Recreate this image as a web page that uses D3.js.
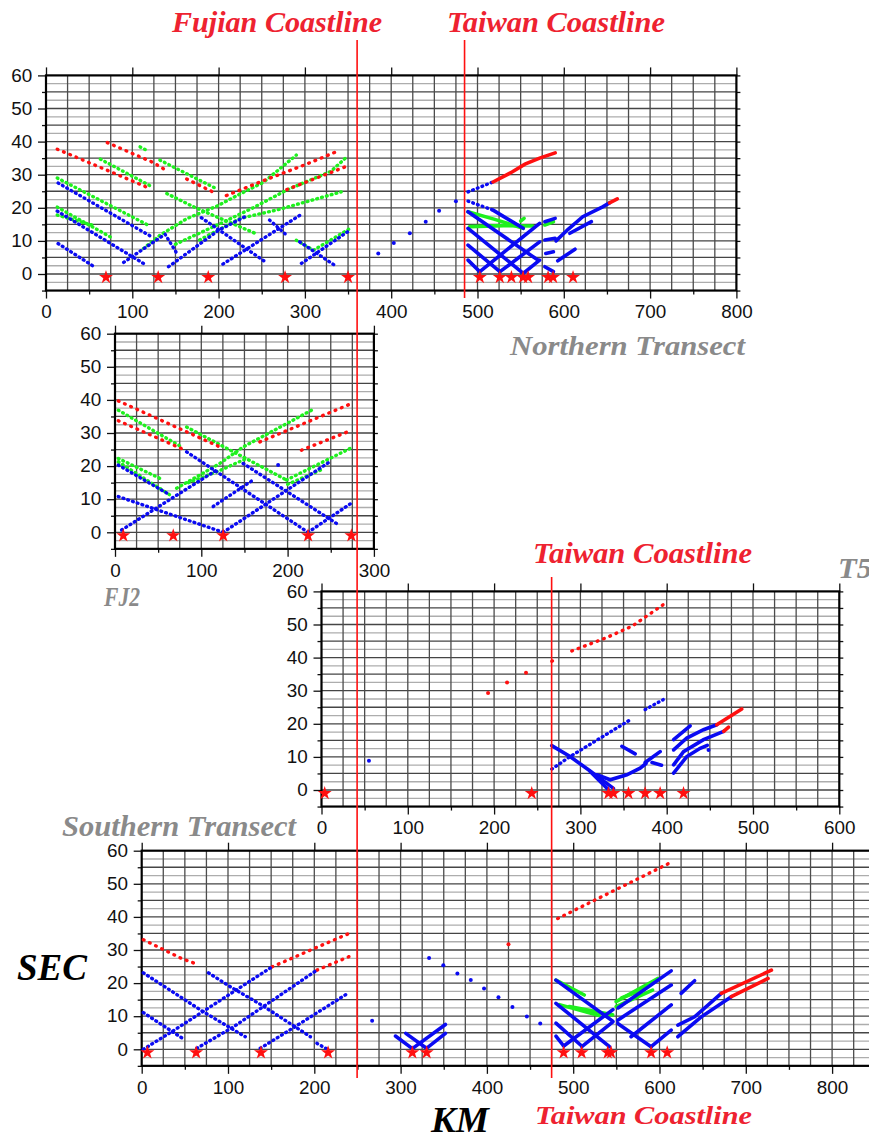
<!DOCTYPE html>
<meta charset="utf-8">
<script src="https://d3js.org/d3.v7.min.js"></script>
<style>
  body { margin: 0; background: #fff; }
</style>
<div id="chart"></div>
<script>

// ---------------- data : [km, sec] picked off the record sections ----------------

// Northern transect
var northRedDots = [
  [[13,37.7],[74,31],[117,26.2]],
  [[71,39.7],[124,33.7],[138,31.5]],
  [[163,28.7],[194,24.7]],
  [[209,23.7],[252,28.2],[300,33],[337,37]],
  [[279,25.5],[351,32.8]]
]
var northRedLines = [
  [[518,27.8],[540,30.8],[555,33.2],[572,35],[590,36.6]],
  [[653,21.5],[662,22.7]]
]
var northGreenDots = [
  [[13,29],[118,14.8]],
  [[63,34.7],[124,26.2]],
  [[109,38.4],[118,37.2]],
  [[132,34.4],[198,25.7]],
  [[140,24.3],[171,20.3],[200,17],[245,12]],
  [[13,20.2],[78,10.7]],
  [[13,17.8],[57,14.5]],
  [[113,7.7],[132,11.7],[163,16.7],[198,20.5],[225,24.2],[252,27.7],[290,35.9]],
  [[150,9],[200,15],[240,20],[280,25.5],[330,31],[350,35.7]],
  [[178,10.3],[225,16.8],[270,19.5],[342,24.8]],
  [[290,10.2],[310,7.2],[352,13.7]]
]
var northGreenLines = [
  [[489,18.8],[520,16.5],[553,13.8]],
  [[491,14.3],[530,14.6],[564,14.5]],
  [[550,16],[554,16.8]],
  [[578,14.8],[588,15.8]]
]
var northBlueDots = [
  [[13,19],[116,2.7]],
  [[14,27.5],[124,11]],
  [[14,9.2],[57,2]],
  [[90,3.5],[135,11.5]],
  [[138,12],[151,6.5]],
  [[142,2.2],[200,13.2],[232,17.5]],
  [[180,17],[254,3.7]],
  [[205,3],[294,17.7]],
  [[259,16.3],[279,11.7]],
  [[296,3.2],[352,13.2]],
  [[294,9.7],[337,2.2]],
  [[489,24.8],[518,27.8]],
  [[489,22],[518,19.3]]
]
var northBlueLines = [
  [[518,19.3],[553,13.8]],
  [[489,18.8],[570,4.2]],
  [[489,13.8],[553,0.2]],
  [[489,8.7],[526,0.7]],
  [[489,4.2],[502.7,0.7]],
  [[502.7,0.7],[572,15.3]],
  [[526,0.7],[572,9.7]],
  [[553,0.2],[572,4.2]],
  [[578,15.8],[590,16.8]],
  [[578,10.3],[590,10.8]],
  [[579,6.2],[588,6.7]],
  [[578,2.2],[588,0.7]],
  [[591,10],[605,13.5],[622,17.3],[645,20.3],[653,21.5]],
  [[607,12.3],[632,15.8]],
  [[593,4],[613,7.5]]
]
var northBluePoints = [[385,6.2],[403,9.4],[421.6,12.3],[440,15.8],[455.5,19.1],[475,22]]
var northShots = [69.5,130,188,277,350,502.7,525.8,539.3,552.8,558.6,581.8,587.6,610.7]

// FJ2 profile
var fjRedDots = [
  [[3.8,39.7],[121.5,25.8]],
  [[3.8,33.7],[77,25.3]],
  [[167.8,27.3],[274,38.9]],
  [[216,24.8],[274,30.8]]
]
var fjGreenDots = [
  [[3.8,36.9],[77,25.8]],
  [[83,31.8],[198.7,15.8]],
  [[3.8,22.3],[56,15.8]],
  [[3.8,21.3],[63.6,11.3]],
  [[71.4,13.3],[121.5,20.8],[148.5,25.8],[231.5,37.4]],
  [[85,15],[120,18.5],[150,22]],
  [[198.7,15.8],[276,25.8]],
  [[200,14.5],[240,19]]
]
var fjBlueDots = [
  [[3.8,20.3],[63.6,11.3]],
  [[3.8,10.8],[125.4,0]],
  [[7.7,0.7],[117.7,18.8]],
  [[83,24.3],[223.7,0]],
  [[125.4,0],[248.8,21.3]],
  [[148.5,20.8],[256.5,2.7]],
  [[223.7,0],[273.9,8.8]],
  [[113.8,7.8],[160,15.8]]
]
var fjBluePoints = [[189,20.3]]
var fjShots = [9.6,67.5,125.4,223.7,273.9]

// T5 profile
var t5RedDots = [
  [[266.8,38.9],[272.6,39.6]],
  [[290,42],[330,46],[360,49.5],[396,56]]
]
var t5RedLines = [
  [[458,19.7],[487,24.5]],
  [[466,17.7],[471.7,19]]
]
var t5RedPoints = [[193,29.3],[215,32.5],[237,35.4]]
var t5BlueDots = [
  [[266.8,6.3],[288,10.1],[357.7,21.2]],
  [[375,24.3],[396,27.3]]
]
var t5BlueLines = [
  [[266.8,13.4],[288,10.1],[309.3,6.1],[338.3,0.5]],
  [[311.3,5.6],[332.5,0.1]],
  [[319,4.6],[334.5,3.1],[353.8,4.6],[369.2,6.6],[376,8]],
  [[348,13.2],[363.5,10.9]],
  [[375,8.3],[392.4,11.6]],
  [[383,8.3],[394,7.5]],
  [[408,15.2],[427.2,19.4]],
  [[408,12.1],[423.3,15.7],[442.7,18.2],[458,19.7]],
  [[408,7.6],[419.5,11.6],[442.7,15.2],[466,17.7]],
  [[408,5.1],[423.3,10.1],[438.8,12.6],[447,13.5]]
]
var t5BluePoints = [[55,8.8],[448.5,12.1]]
var t5Shots = [3.7,243.6,332.5,338.3,355.7,375,392.4,419.5]

// Southern transect
var southRedDots = [
  [[1.9,33.1],[46.5,27.4],[62,25.9]],
  [[151,24.9],[199.4,30.4],[243.9,35.4]],
  [[203,23.9],[243.9,28.4]],
  [[482,39.5],[543.8,47.5],[571,51],[613.5,56.5]]
]
var southRedLines = [
  [[671.6,16.9],[729.7,23.9]],
  [[683.2,15.9],[725.8,21.4]]
]
var southRedPoints = [[425,31.7]]
var southBlueDots = [
  [[1.9,23.1],[71.6,11.3],[120,3.8]],
  [[1.9,11.1],[50.3,2.8]],
  [[1.9,0],[34.8,5.3],[106.5,17.4],[151,24.9]],
  [[77.4,23.1],[102.6,18.9],[139.4,13.3],[195.5,3.8]],
  [[63.9,0.3],[106.5,6.8],[191.6,21.9],[203,23.9]],
  [[137.4,0.3],[168.4,5.3],[240,17.1]],
  [[203,1.8],[216.8,-0.2]]
]
var southBlueLines = [
  [[294,4],[313.6,0.2],[352,7.5]],
  [[306,4.8],[330,0.3],[352,4.8]],
  [[480,20.9],[545.8,8.5]],
  [[480,13.9],[542,0.8]],
  [[480,7.9],[509.8,1]],
  [[480,4],[489,1]],
  [[489,1],[546,12]],
  [[552,12.5],[613.6,23.7]],
  [[510,0.8],[546,8.3]],
  [[551.6,8.8],[613.6,19.4]],
  [[567,3.8],[613.6,13.4]],
  [[590.3,0.8],[613.6,5.8]],
  [[551.6,7.8],[590.3,0.8]],
  [[625,16.9],[640.7,20.7]],
  [[621.3,7.3],[640.7,9.8],[671.6,16.9]],
  [[621.3,3.8],[648.4,9.8],[683.2,15.9]]
]
var southGreenLines = [
  [[480,20.9],[512.9,16.4]],
  [[495.5,12.9],[545.8,10.4]],
  [[484,13.5],[530,10.2]],
  [[549.7,14.4],[598,21.4]],
  [[549.7,12.9],[592,17.9]],
  [[556,15.5],[582,18.2]]
]
var southBluePoints = [[267,8.6],[333,27.6],[349.5,25.4],[365.8,22.9],[381.3,20.9],[396.7,18.4],[413.4,15.7],[429.6,12.8],[446.3,9.9],[461.8,7.8]]
var southShots = [6.6,63.1,138.2,216,313.6,330.2,488.9,509.8,540,543.9,590.3,608.9]

// coastlines (km on the northern / southern transect)
var fujianKm = 360.5
var taiwanKmNorth = 485
var taiwanKmSouth = 475

// ---------------- drawing ----------------
var W = 869, H = 1139
var kmPx = 0.863, secPx = 3.31
var RED = "#ff1010", GREEN = "#1ef01e", BLUE = "#0a0af2"
var LABEL_RED = "#ee2230", LABEL_GRAY = "#8a8a8a"
var numFont = "'Liberation Sans', Arial, sans-serif"
var titleFont = "'Liberation Serif', 'Times New Roman', serif"

var svg = d3.select("#chart").append("svg")
  .attr("width", W)
  .attr("height", H)
  .style("display", "block")

function drawPanel(p) {
  var x = d3.scaleLinear().domain([0, p.xmax]).range([p.left, p.left + p.xmax * kmPx])
  var y = d3.scaleLinear().domain([-5, 60]).range([p.zero + 5 * secPx, p.zero - 60 * secPx])
  var g = svg.append("g")
  var x0 = x(0), x1 = x(p.xmax), yT = y(60), yB = y(-5)

  g.append("rect")
    .attr("x", x0).attr("y", yT)
    .attr("width", x1 - x0).attr("height", yB - yT)
    .attr("fill", "#fff")

  // grid
  g.selectAll("line.hg").data(d3.range(-2.5, 60, 2.5)).join("line")
    .attr("class", "hg")
    .attr("x1", x0).attr("x2", x1)
    .attr("y1", function(d){ return y(d) }).attr("y2", function(d){ return y(d) })
    .attr("stroke", function(d){ return d % 5 === 0 ? "#454545" : "#adadad" })
    .attr("stroke-width", 1.3)
  g.selectAll("line.vg").data(d3.range(25, p.xmax, 25)).join("line")
    .attr("class", "vg")
    .attr("x1", function(d){ return x(d) }).attr("x2", function(d){ return x(d) })
    .attr("y1", yT).attr("y2", yB)
    .attr("stroke", "#4c4c4c")
    .attr("stroke-width", 1.3)

  // axes
  var xt = d3.range(0, p.xmax + 1, 100)
  var axB = g.append("g").attr("transform", "translate(0," + yB + ")")
    .call(d3.axisBottom(x).tickValues(xt).tickSize(8).tickPadding(7).tickFormat(d3.format("d")))
  var axT = g.append("g").attr("transform", "translate(0," + yT + ")")
    .call(d3.axisTop(x).tickValues(xt).tickSize(8).tickFormat(""))
  var axL = g.append("g").attr("transform", "translate(" + x0 + ",0)")
    .call(d3.axisLeft(y).tickValues(d3.range(0, 61, 10)).tickSize(8).tickPadding(5).tickFormat(d3.format("d")))
  var axLm = g.append("g").attr("transform", "translate(" + x0 + ",0)")
    .call(d3.axisLeft(y).tickValues(d3.range(-5, 60, 10)).tickSize(4).tickFormat(""))
  var axR = g.append("g").attr("transform", "translate(" + x1 + ",0)")
    .call(d3.axisRight(y).tickValues(d3.range(-5, 61, 5)).tickSize(4).tickFormat(""))
  var axBm = g.append("g").attr("transform", "translate(0," + yB + ")")
    .call(d3.axisBottom(x).tickValues(d3.range(50, p.xmax, 100)).tickSize(4).tickFormat(""))

  ;[axB, axT, axL, axLm, axR, axBm].forEach(function(a) {
    a.select(".domain").remove()
    a.selectAll(".tick line").attr("stroke", "#111").attr("stroke-width", 1.3)
    a.selectAll("text")
      .attr("font-family", numFont)
      .attr("font-size", 18)
      .attr("fill", "#111")
      .attr("transform", "scale(1.05,1)")
  })

  // frame
  g.append("rect")
    .attr("x", x0).attr("y", yT)
    .attr("width", x1 - x0).attr("height", yB - yT)
    .attr("fill", "none")
    .attr("stroke", "#000")
    .attr("stroke-width", 2.2)

  var line = d3.line().x(function(d){ return x(d[0]) }).y(function(d){ return y(d[1]) })
  var plot = g.append("g")

  function dots(data, color, gap) {
    plot.selectAll(null).data(data).join("path")
      .attr("d", line)
      .attr("fill", "none")
      .attr("stroke", color)
      .attr("stroke-width", 3.4)
      .attr("stroke-linecap", "round")
      .attr("stroke-dasharray", "0.8," + gap)
  }
  function solid(data, color) {
    plot.selectAll(null).data(data).join("path")
      .attr("d", line)
      .attr("fill", "none")
      .attr("stroke", color)
      .attr("stroke-width", 3.6)
      .attr("stroke-linecap", "round")
  }
  function points(data, color) {
    plot.selectAll(null).data(data).join("circle")
      .attr("cx", function(d){ return x(d[0]) })
      .attr("cy", function(d){ return y(d[1]) })
      .attr("r", 2)
      .attr("fill", color)
  }

  if (p.greenDots) dots(p.greenDots, GREEN, 4.2)
  if (p.redDots) dots(p.redDots, RED, 6)
  if (p.blueDots) dots(p.blueDots, BLUE, 4.2)
  if (p.greenLines) solid(p.greenLines, GREEN)
  if (p.blueLines) solid(p.blueLines, BLUE)
  if (p.redLines) solid(p.redLines, RED)
  if (p.bluePoints) points(p.bluePoints, BLUE)
  if (p.redPoints) points(p.redPoints, RED)

  plot.selectAll(null).data(p.shots).join("path")
    .attr("d", d3.symbol(d3.symbolStar, 60))
    .attr("transform", function(d){ return "translate(" + x(d) + "," + y(-1) + ")" })
    .attr("fill", RED)

  return { x: x, y: y }
}

var north = drawPanel({
  left: 46, zero: 274, xmax: 800,
  redDots: northRedDots, redLines: northRedLines,
  greenDots: northGreenDots, greenLines: northGreenLines,
  blueDots: northBlueDots, blueLines: northBlueLines,
  bluePoints: northBluePoints, shots: northShots
})
var fj2 = drawPanel({
  left: 115, zero: 532.3, xmax: 300,
  redDots: fjRedDots, greenDots: fjGreenDots, blueDots: fjBlueDots,
  bluePoints: fjBluePoints, shots: fjShots
})
var t5 = drawPanel({
  left: 321.5, zero: 790, xmax: 600,
  redDots: t5RedDots, redLines: t5RedLines, redPoints: t5RedPoints,
  blueDots: t5BlueDots, blueLines: t5BlueLines, bluePoints: t5BluePoints,
  shots: t5Shots
})
var south = drawPanel({
  left: 141.7, zero: 1049.3, xmax: 850,
  redDots: southRedDots, redLines: southRedLines, redPoints: southRedPoints,
  blueDots: southBlueDots, blueLines: southBlueLines, greenLines: southGreenLines,
  bluePoints: southBluePoints, shots: southShots
})

// coastline markers
svg.append("line")
  .attr("x1", north.x(fujianKm)).attr("x2", north.x(fujianKm))
  .attr("y1", 40).attr("y2", 1078)
  .attr("stroke", RED).attr("stroke-width", 1.6)
svg.append("line")
  .attr("x1", north.x(taiwanKmNorth)).attr("x2", north.x(taiwanKmNorth))
  .attr("y1", 40).attr("y2", 298)
  .attr("stroke", RED).attr("stroke-width", 1.6)
svg.append("line")
  .attr("x1", south.x(taiwanKmSouth)).attr("x2", south.x(taiwanKmSouth))
  .attr("y1", 577).attr("y2", 1078)
  .attr("stroke", RED).attr("stroke-width", 1.6)

// labels
function label(txt, x, y, size, color, len) {
  svg.append("text")
    .attr("x", x).attr("y", y)
    .attr("font-family", titleFont)
    .attr("font-weight", "bold")
    .attr("font-style", "italic")
    .attr("font-size", size)
    .attr("fill", color)
    .attr("textLength", len)
    .attr("lengthAdjust", "spacingAndGlyphs")
    .text(txt)
}
label("Fujian Coastline", 172, 32, 29, LABEL_RED, 210)
label("Taiwan Coastline", 447, 32, 29, LABEL_RED, 218)
label("Taiwan Coastline", 533, 563, 29, LABEL_RED, 219)
label("Taiwan Coastline", 535, 1124, 26, LABEL_RED, 217)
label("Northern Transect", 510, 355, 28, LABEL_GRAY, 235)
label("Southern Transect", 62, 836, 30, LABEL_GRAY, 234)
label("FJ2", 104, 606, 27, LABEL_GRAY, 36)
label("T5", 838, 578, 29, LABEL_GRAY, 34)
label("SEC", 17, 980, 38, "#000", 70)
label("KM", 431, 1132, 36, "#000", 58)

</script>
